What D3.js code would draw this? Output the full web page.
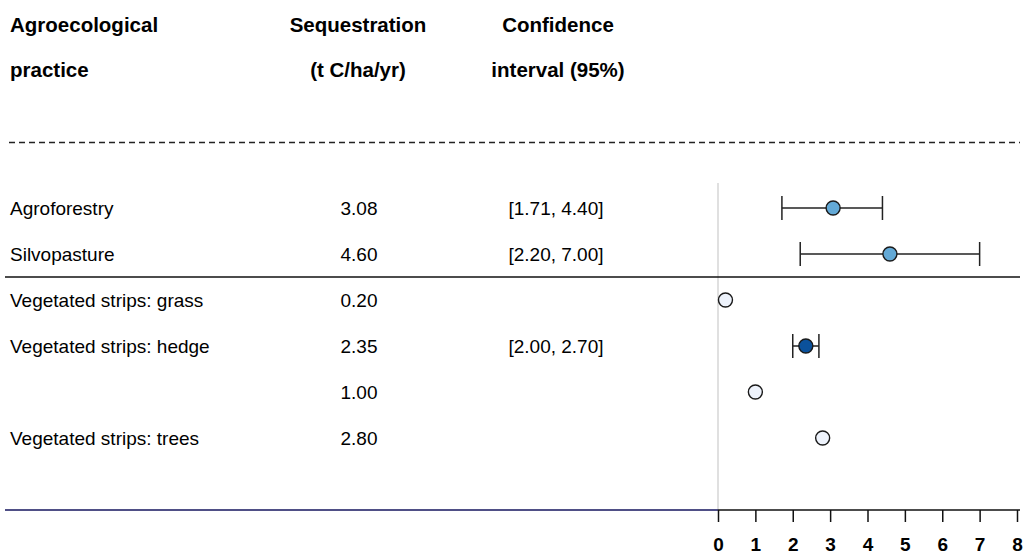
<!DOCTYPE html>
<html>
<head>
<meta charset="utf-8">
<script src="https://cdn.jsdelivr.net/npm/d3@7"></script>
<style>
  html, body { margin: 0; padding: 0; background: #fff; }
  svg { display: block; font-family: "Liberation Sans", Arial, sans-serif; }
</style>
</head>
<body>
<svg id="chart" width="1026" height="558"></svg>
<script>
// Table rows: practice, point estimate and 95% interval (t C/ha/yr)
const practices = [
  "Agroforestry",
  "Silvopasture",
  "Vegetated strips: grass",
  "Vegetated strips: hedge",
  "",
  "Vegetated strips: trees"
];
const estimates = [3.08, 4.60, 0.20, 2.35, 1.00, 2.80];
const ciLow  = [1.71, 2.20, null, 2.00, null, null];
const ciHigh = [4.40, 7.00, null, 2.70, null, null];
// Kind of evidence behind each estimate
const evidence = ["pooled", "pooled", "single", "meta", "single", "single"];
const headerLines = [
  ["Agroecological", "practice"],
  ["Sequestration", "(t C/ha/yr)"],
  ["Confidence", "interval (95%)"]
];
const xTicks = [0, 1, 2, 3, 4, 5, 6, 7, 8];

const fillFor = { pooled: "#63a9d6", meta: "#0b519b", single: "#eef3fc" };

const svg = d3.select("#chart");

const x = d3.scaleLinear().domain([0, 8]).range([718, 1017]);
const y = d3.scaleLinear().domain([0, 5]).range([208, 438]);

const fmt = d3.format(".2f");

// Column headers
const colX = [10, 358, 558];
const colAnchor = ["start", "middle", "middle"];
headerLines.forEach((lines, c) => {
  lines.forEach((t, k) => {
    svg.append("text")
      .attr("x", colX[c])
      .attr("y", 32 + k * 45)
      .attr("text-anchor", colAnchor[c])
      .attr("font-size", 20.5)
      .attr("font-weight", "bold")
      .attr("fill", "#000")
      .text(t);
  });
});

// Dashed separator under the header
svg.append("line")
  .attr("x1", 9).attr("x2", 1020)
  .attr("y1", 142.5).attr("y2", 142.5)
  .attr("stroke", "#222").attr("stroke-width", 1.4)
  .attr("stroke-dasharray", "6,4");

// Zero reference line
svg.append("line")
  .attr("x1", x(0)).attr("x2", x(0))
  .attr("y1", 183).attr("y2", 510)
  .attr("stroke", "#cfcfcf").attr("stroke-width", 1.3);

// Solid separator between the tree-based and strip practices
svg.append("line")
  .attr("x1", 5).attr("x2", 1020)
  .attr("y1", (y(1) + y(2)) / 2).attr("y2", (y(1) + y(2)) / 2)
  .attr("stroke", "#111").attr("stroke-width", 1.5);

// Bottom rule (left part) and axis
svg.append("line")
  .attr("x1", 5).attr("x2", x(0))
  .attr("y1", 510).attr("y2", 510)
  .attr("stroke", "#15155e").attr("stroke-width", 1.6);

const axis = svg.append("g")
  .attr("transform", "translate(0,510)")
  .call(d3.axisBottom(x).tickValues(xTicks).tickFormat(d3.format("d"))
    .tickSize(12).tickSizeOuter(0).tickPadding(16));
axis.select(".domain").attr("stroke", "#111").attr("stroke-width", 1.5)
  .attr("d", `M${x(0)},0H1020`);
axis.selectAll(".tick line").attr("stroke", "#111").attr("stroke-width", 1.5);
axis.selectAll(".tick text")
  .attr("font-size", 19).attr("font-weight", "bold")
  .attr("font-family", "\"Liberation Sans\", Arial, sans-serif")
  .attr("fill", "#000");

// Table text
const rows = svg.append("g");
practices.forEach((p, i) => {
  const yy = y(i) + 6.5;
  rows.append("text").attr("x", 10).attr("y", yy)
    .attr("font-size", 19).attr("fill", "#000").text(p);
  rows.append("text").attr("x", 359).attr("y", yy)
    .attr("text-anchor", "middle")
    .attr("font-size", 19).attr("fill", "#000").text(fmt(estimates[i]));
  if (ciLow[i] != null) {
    rows.append("text").attr("x", 556).attr("y", yy)
      .attr("text-anchor", "middle")
      .attr("font-size", 19).attr("fill", "#000")
      .text(`[${fmt(ciLow[i])}, ${fmt(ciHigh[i])}]`);
  }
});

// Interval whiskers
const cap = 12;
const marks = svg.append("g");
estimates.forEach((v, i) => {
  if (ciLow[i] == null) return;
  const yy = y(i);
  marks.append("line")
    .attr("x1", x(ciLow[i])).attr("x2", x(ciHigh[i]))
    .attr("y1", yy).attr("y2", yy)
    .attr("stroke", "#222").attr("stroke-width", 1.5);
  [ciLow[i], ciHigh[i]].forEach(e => {
    marks.append("line")
      .attr("x1", x(e)).attr("x2", x(e))
      .attr("y1", yy - cap).attr("y2", yy + cap)
      .attr("stroke", "#222").attr("stroke-width", 1.5);
  });
});

// Point estimates
marks.selectAll("circle")
  .data(estimates)
  .join("circle")
  .attr("cx", d => x(d))
  .attr("cy", (d, i) => y(i))
  .attr("r", 7)
  .attr("fill", (d, i) => fillFor[evidence[i]])
  .attr("stroke", "#1a1a1a")
  .attr("stroke-width", 1.4);
</script>
</body>
</html>
